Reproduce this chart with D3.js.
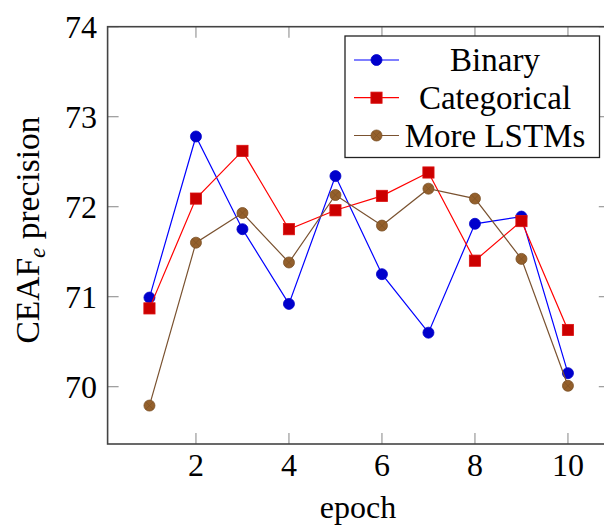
<!DOCTYPE html>
<html><head><meta charset="utf-8">
<script src="https://cdn.jsdelivr.net/npm/d3@7"></script>
<style>
html,body{margin:0;padding:0;background:#fff;overflow:hidden}
svg text{font-family:"Liberation Serif","DejaVu Serif",serif;fill:#000}
</style></head>
<body>
<svg id="c" width="604" height="526"></svg>
<script>
const epochs = [1,2,3,4,5,6,7,8,9,10];
const binary = [70.99,72.78,71.75,70.92,72.34,71.25,70.60,71.81,71.89,70.15];
const categorical = [70.87,72.09,72.62,71.75,71.96,72.12,72.38,71.40,71.84,70.63];
const moreLSTMs = [69.79,71.60,71.93,71.38,72.13,71.79,72.20,72.09,71.42,70.01];
const seriesNames = ["Binary","Categorical","More LSTMs"];
const xTicks = [2,4,6,8,10];
const yTicks = [70,71,72,73,74];

(function(){
const svg = d3.select("#c");
const pL = 107.6, pR = 609.8, pT = 26.7, pB = 444;
const x = d3.scaleLinear().domain([0.1,10.9]).range([pL,pR]);
const y = d3.scaleLinear().domain([69.363,74]).range([pB,pT]);
const FS = 32;

const styles = [
  {line:"#0000ff", fill:"#0000cc", stroke:"#0000cc", mark:"circle"},
  {line:"#ff0000", fill:"#cc0000", stroke:"#dd1111", mark:"square"},
  {line:"#7a5230", fill:"#94602c", stroke:"#7a4f25", mark:"otimes"}
];
const data = [binary, categorical, moreLSTMs];

const tl = 11;
const g = svg.append("g");
xTicks.forEach(t=>{
  g.append("line").attr("x1",x(t)).attr("x2",x(t)).attr("y1",pB).attr("y2",pB-tl).attr("stroke","#999").attr("stroke-width",1.2);
  g.append("line").attr("x1",x(t)).attr("x2",x(t)).attr("y1",pT).attr("y2",pT+tl).attr("stroke","#999").attr("stroke-width",1.2);
  g.append("text").attr("x",x(t)).attr("y",476).attr("text-anchor","middle").attr("font-size",FS).text(t);
});
yTicks.forEach(t=>{
  g.append("line").attr("x1",pL).attr("x2",pL+tl).attr("y1",y(t)).attr("y2",y(t)).attr("stroke","#999").attr("stroke-width",1.2);
  g.append("line").attr("x1",pR).attr("x2",pR-tl).attr("y1",y(t)).attr("y2",y(t)).attr("stroke","#999").attr("stroke-width",1.2);
  g.append("text").attr("x",97).attr("y",y(t)+11).attr("text-anchor","end").attr("font-size",FS).text(t);
});

svg.append("rect").attr("x",pL).attr("y",pT).attr("width",pR-pL).attr("height",pB-pT)
  .attr("fill","none").attr("stroke","#444").attr("stroke-width",1.6);

function drawMark(sel, s, cx, cy){
  if(s.mark==="circle"){
    sel.append("circle").attr("cx",cx).attr("cy",cy).attr("r",5.5).attr("fill",s.fill).attr("stroke",s.stroke).attr("stroke-width",0.8);
  } else if(s.mark==="square"){
    sel.append("rect").attr("x",cx-5.6).attr("y",cy-5.6).attr("width",11.2).attr("height",11.2).attr("fill",s.fill).attr("stroke",s.stroke).attr("stroke-width",0.8);
  } else {
    sel.append("circle").attr("cx",cx).attr("cy",cy).attr("r",5.5).attr("fill",s.fill).attr("stroke",s.stroke).attr("stroke-width",0.8);
    const d = 5.5*Math.SQRT1_2;
    sel.append("path").attr("d",`M${cx-d},${cy-d}L${cx+d},${cy+d}M${cx-d},${cy+d}L${cx+d},${cy-d}`).attr("stroke",s.stroke).attr("stroke-width",0.8).attr("opacity",0.7);
  }
}

const line = d3.line().x((d,i)=>x(epochs[i])).y(d=>y(d));
data.forEach((vals,k)=>{
  const s = styles[k];
  svg.append("path").datum(vals).attr("d",line).attr("fill","none").attr("stroke",s.line).attr("stroke-width",1.2);
  const mg = svg.append("g");
  vals.forEach((v,i)=>drawMark(mg,s,x(epochs[i]),y(v)));
});

const lg = svg.append("g");
lg.append("rect").attr("x",345).attr("y",36).attr("width",254.5).attr("height",121.5).attr("fill","#fff").attr("stroke","#222").attr("stroke-width",1.3);
const rows = [60,97.7,135.5];
seriesNames.forEach((n,k)=>{
  const s = styles[k];
  lg.append("line").attr("x1",354).attr("x2",399).attr("y1",rows[k]).attr("y2",rows[k]).attr("stroke",s.line).attr("stroke-width",1.2);
  drawMark(lg,s,376.5,rows[k]);
  lg.append("text").attr("x",495).attr("y",rows[k]+11).attr("text-anchor","middle").attr("font-size",33).text(n);
});

svg.append("text").attr("x",358).attr("y",518).attr("text-anchor","middle").attr("font-size",FS).text("epoch");
const yl = svg.append("text").attr("transform","translate(39,230) rotate(-90)").attr("text-anchor","middle").attr("font-size",33.5);
yl.append("tspan").text("CEAF");
yl.append("tspan").attr("font-size",23).attr("font-style","italic").attr("dy",6).text("e");
yl.append("tspan").attr("dy",-6).text(" precision");
})();
</script>
</body></html>
